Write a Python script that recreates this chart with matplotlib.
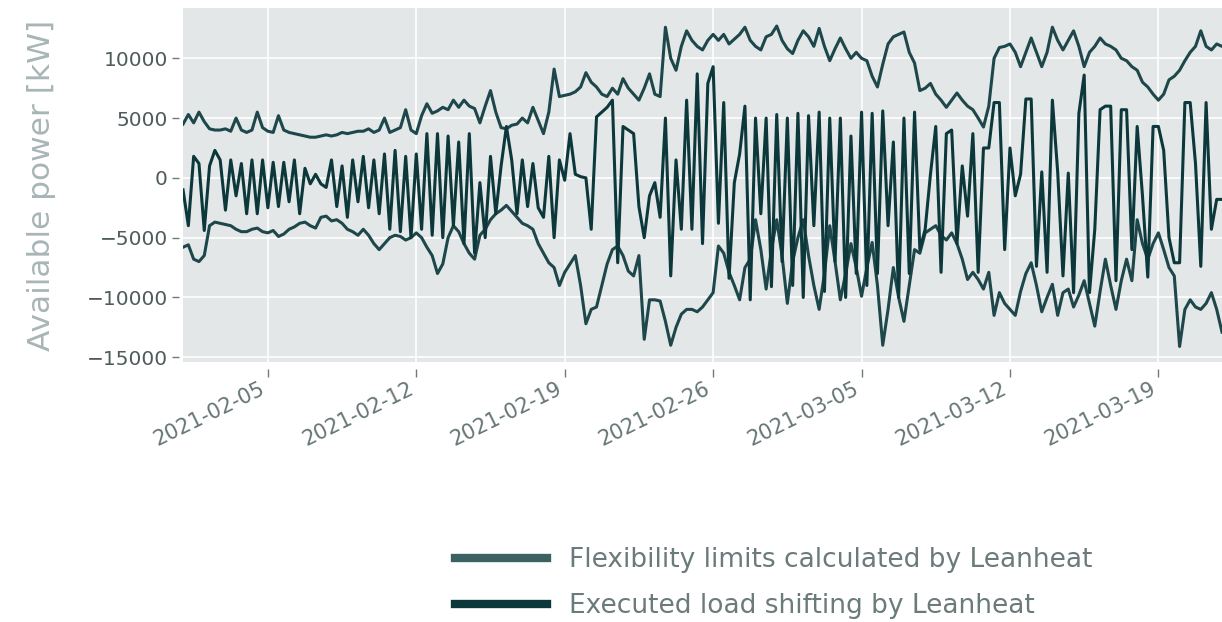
import numpy as np
import pandas as pd
import matplotlib
matplotlib.use('Agg')
import matplotlib.pyplot as plt
import matplotlib.dates as mdates
import matplotlib.transforms as mtransforms
from matplotlib.lines import Line2D

# values, 6-hourly from 2021-02-01 00:00 (three days per row)
upper_kw = [
    4500, 5300, 4600, 5500,  4700, 4100, 4000, 4000,  4100, 3900, 5000, 4000,
    3800, 4000, 5500, 4200,  3900, 3800, 5200, 4000,  3800, 3700, 3600, 3500,
    3400, 3400, 3500, 3600,  3500, 3600, 3800, 3700,  3800, 3900, 3900, 4100,
    3800, 4000, 5000, 3800,  4000, 4200, 5700, 4000,  3700, 5200, 6200, 5400,
    5600, 5900, 5700, 6500,  5900, 6500, 6000, 5800,  4600, 6000, 7300, 5500,
    4200, 4100, 4400, 4500,  5000, 4600, 5900, 4800,  3700, 5500, 9100, 6800,
    6900, 7000, 7200, 7600,  8800, 8000, 7600, 7000,  6800, 7500, 7000, 8300,
    7500, 7000, 6500, 7500,  8700, 7000, 6800, 12600, 10000, 9000, 11000, 12300,
    11500, 11000, 10700, 11500, 12000, 11500, 12000, 11200, 11600, 12000, 12600, 11500,
    11000, 10700, 11800, 12000, 12700, 11500, 10800, 10400, 11500, 12300, 11800, 11000,
    12500, 11000, 9800, 10800, 11700, 10800, 10000, 10500, 10000, 9800, 8500, 7600,
    9500, 11200, 11800, 12000, 12200, 10500, 9600, 7300,  7500, 7900, 7000, 6500,
    5900, 6500, 7100, 6500,  6000, 5700, 5000, 4250,  6000, 10000, 10900, 11000,
    11200, 10500, 9300, 10500, 11700, 10500, 9300, 10500, 12600, 11500, 10700, 11500,
    12300, 11000, 9300, 10500, 11000, 11700, 11200, 11000, 10700, 10000, 9800, 9300,
    9000, 8000, 7600, 7000,  6500, 7000, 8200, 8500,  9000, 9800, 10500, 11000,
    12300, 11000, 10700, 11200, 11000,
]

lower_kw = [
    -5800, -5600, -6800, -7000,  -6500, -4000, -3700, -3800,  -3900, -4000, -4300, -4500,
    -4500, -4300, -4200, -4500,  -4600, -4400, -4900, -4700,  -4300, -4100, -3800, -3700,
    -4000, -4200, -3300, -3200,  -3600, -3500, -3800, -4300,  -4500, -4800, -4300, -4800,
    -5500, -6000, -5500, -5000,  -4800, -4900, -5200, -5000,  -4600, -5000, -5800, -6500,
    -8000, -7200, -5000, -4000,  -4500, -5500, -6300, -6800,  -4800, -4300, -3500, -3000,
    -2700, -2300, -2800, -3300,  -3800, -4000, -4300, -5500,  -6300, -7100, -7500, -9000,
    -7900, -7200, -6500, -9000,  -12200, -11000, -10800, -9000, -7200, -6000, -5700, -6500,
    -7800, -8200, -6500, -13500, -10200, -10200, -10300, -12000, -14000, -12500, -11400, -11000,
    -11000, -11200, -10800, -10200, -9600, -5700, -6300, -7900, -9000, -10200, -7500, -6800,
    -3500, -6000, -9300, -6000,  -3500, -6500, -10500, -7000, -5000, -3500, -6500, -9000,
    -11000, -8000, -4000, -7000, -10200, -8000, -5500, -7500, -9900, -7500, -5400, -9000,
    -14000, -11000, -7500, -10000, -12000, -9000, -6000, -6300, -4600, -4300, -4000, -4800,
    -5200, -4600, -5500, -6800,  -8500, -7900, -8500, -9300,  -7900, -11500, -9600, -10500,
    -11000, -11500, -9500, -8000, -7100, -9000, -11200, -10000, -8900, -11500, -9600, -9300,
    -10800, -9800, -8600, -10500, -12400, -9500, -6800, -9000, -11000, -8600, -6800, -8600,
    -3500, -5500, -6800, -5500,  -4600, -6000, -7500, -8200,  -14100, -11000, -10200, -10800,
    -11000, -10500, -9600, -11000, -12900,
]

executed_kw = [
    -1000, -4000, 1800, 1200,  -4400, 1000, 2300, 1500,  -2700, 1500, -1500, 1200,
    -3000, 1500, -3000, 1500,  -2500, 1300, -2400, 1300,  -2000, 1500, -3000, 800,
    -500, 300, -500, -800,  1500, -2400, 1000, -3300,  1500, -2000, 1800, -2500,
    1500, -3000, 2000, -4300,  2300, -4500, 1800, -5000,  2000, -4300, 3700, -4800,
    3700, -5000, 3500, -4000,  3000, -5500, 3700, -6300,  -400, -5000, 1800, -3000,
    1000, 4300, 1500, -3000,  1500, -2400, 1200, -2500,  -3300, 1800, -5000, 1500,
    -200, 3700, 300, 100,  0, -4300, 5100, 5500,  5900, 6500, -7100, 4300,
    4000, 3700, -2400, -5000,  -1500, -400, -3300, 5000,  -8200, 1500, -4300, 6500,
    -4300, 8700, -5500, 7900,  9300, -3800, 6300, -8400,  -400, 2000, 6000, -10200,
    5000, -3000, 5000, -9100,  5300, -7000, 5000, -9000,  5400, -10000, 5200, -4000,
    5500, -9500, 5000, -7000,  5000, -10000, 3500, -8000,  5500, -9000, 5400, -8000,
    5600, -4000, 3000, -10000,  5000, -8000, 5500, -6000,  -4300, 300, 4300, -7900,
    3700, 4000, -5500, 1000,  -3200, 3700, -7900, 2500,  2500, 6300, 6300, -6000,
    2500, -1500, 300, 6600,  6600, -7400, 500, -7900,  6500, 500, -8200, 400,
    -9600, 5400, 8600, -9600,  -4300, 5700, 6000, 6000,  -8600, 5700, 5700, -6000,
    4300, -1500, -8300, 4300,  4300, 2300, -5000, -7100,  -7100, 6300, 6300, 1200,
    -7400, 6300, -4300, -1800,  -1800,
]

limits_label = 'Flexibility limits calculated by Leanheat'
executed_label = 'Executed load shifting by Leanheat'
tick_dates = pd.date_range('2021-02-05', '2021-03-19', freq='7D')

limit_colour = '#1d474a'
executed_colour = '#0c383b'

times = pd.date_range('2021-02-01', periods=len(upper_kw), freq='6h')

fig = plt.figure(figsize=(12.22, 6.22), dpi=100)
ax = fig.add_axes([0.1498, 0.418, 0.8502, 0.569])
ax.set_facecolor('#e3e7e7')
ax.grid(True, color='white', linewidth=1.2)
ax.set_axisbelow(True)
for s in ax.spines.values():
    s.set_visible(False)
# ticks sit a little away from the plot area
ax.spines['bottom'].set_position(('outward', 5))
ax.spines['left'].set_position(('outward', 3))

ax.plot(times, upper_kw, color=limit_colour, lw=2.2)
ax.plot(times, lower_kw, color=limit_colour, lw=2.2)
ax.plot(times, executed_kw, color=executed_colour, lw=2.2)

ax.set_xlim(pd.Timestamp('2021-02-01'), pd.Timestamp('2021-03-22'))
ax.set_ylim(-15400, 14200)
ax.set_yticks([-15000, -10000, -5000, 0, 5000, 10000])
ax.set_xticks(tick_dates)
ax.xaxis.set_major_formatter(mdates.DateFormatter('%Y-%m-%d'))
ax.tick_params(axis='y', colors='#6f7c7c', labelcolor='#4f5c5c',
               labelsize=14.5, length=5, width=1, pad=3)
ax.tick_params(axis='x', colors='#6f7c7c', labelcolor='#667575',
               labelsize=15, length=6, width=1, pad=-3)
# nudge the date labels a bit left and down, clear of the tick marks
shift = mtransforms.ScaledTranslation(-6 / 72, -4 / 72, fig.dpi_scale_trans)
for lbl in ax.get_xticklabels():
    lbl.set_rotation(26)
    lbl.set_ha('right')
    lbl.set_rotation_mode('anchor')
    lbl.set_transform(lbl.get_transform() + shift)
ax.set_ylabel('Available power [kW]', fontsize=22.5, color='#a8b5b6', labelpad=22)

handles = [Line2D([], [], color='#3b6163', lw=6),
           Line2D([], [], color=executed_colour, lw=6)]
fig.legend(handles, [limits_label, executed_label], loc='upper left',
           bbox_to_anchor=(0.372, 0.12), frameon=False, fontsize=19,
           labelcolor='#6b7a7a', handlelength=3.5, handletextpad=0.85,
           labelspacing=0.75, borderpad=0, borderaxespad=0)

fig.savefig('out.png', dpi=100, facecolor='white')
